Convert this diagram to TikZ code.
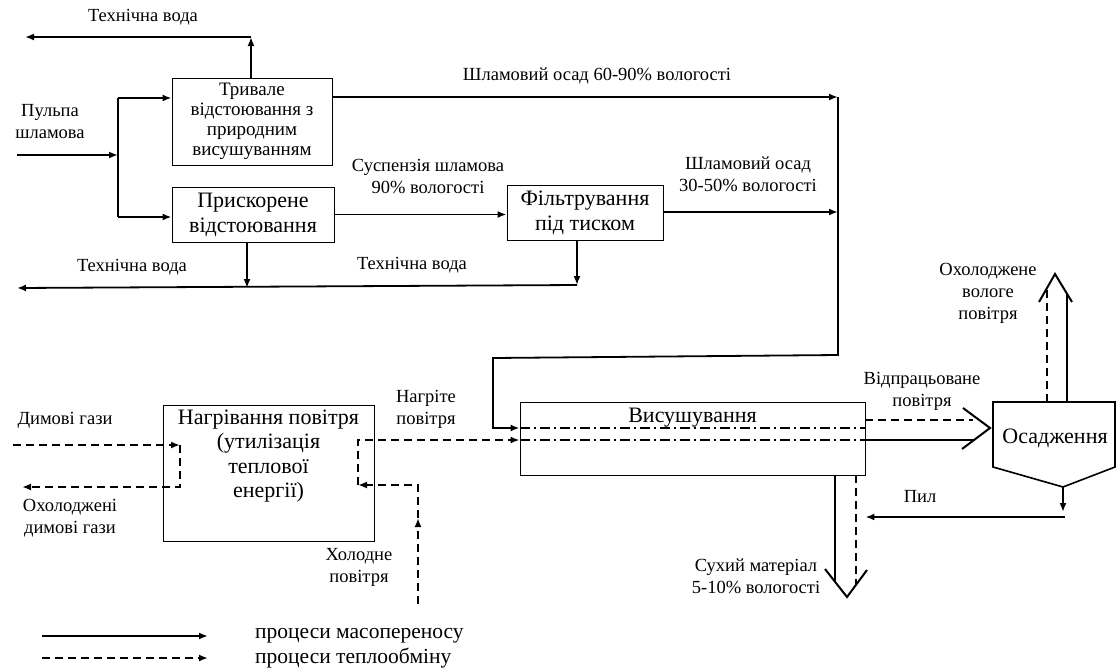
\documentclass[tikz,border=0pt]{standalone}
\usepackage{fontspec}
\setmainfont{Liberation Serif}
\usepackage{tikz}
\usetikzlibrary{
    positioning,
    calc,
    arrows.meta
}
\tikzset{
  box/.style = {
      draw,
      line width=0.9pt,
      rectangle,
      align=center,
      inner sep=0pt,
      font=\fontsize{22}{25}\selectfont
  },
  boxtext/.style = {
      align=center,
      inner sep=0pt,
      font=\fontsize{22}{24.5}\selectfont
  },
  smallbox/.style = {
      box,
      font=\fontsize{19}{20}\selectfont
  },
  txt/.style = {
      align=center,
      inner sep=1pt,
      font=\fontsize{18.5}{22}\selectfont
  },
  flow/.style = {
      line width=1.8pt
  },
  mass/.style = {
      flow,
      -{Latex[length=9pt,width=7pt]}
  },
  heatline/.style = {
      line width=1.8pt,
      dash pattern=on 8pt off 5pt
  },
  heat/.style = {
      heatline,
      -{Latex[length=9pt,width=7pt]}
  },
  dashdot/.style = {
      line width=1.6pt,
      dash pattern=on 10pt off 4pt on 2pt off 4pt
  },
  chevron/.style = {
      line width=2pt,
      line join=miter
  }
}

\begin{document}
\begin{tikzpicture}[x=1pt, y=-1pt]
        \useasboundingbox (0,0) rectangle (1117,670);
        % Boxes
        \node[smallbox, minimum width=160pt, minimum height=87pt] (settle) at (252,121.5)
            {Тривале\\відстоювання з\\природним\\висушуванням};
        \node[box, minimum width=162pt, minimum height=55pt] (accel) at (253,214.5)
            {Прискорене\\відстоювання};
        \node[box, minimum width=156pt, minimum height=55pt] (filter) at (585,212.5)
            {Фільтрування\\під тиском};
        \node[box, minimum width=345pt, minimum height=73pt] (dryer) at (692.5,438.5) {};
        \node[boxtext, below=6pt of dryer.north] (drylbl) {Висушування};
        \node[box, minimum width=211pt, minimum height=136pt] (heater) at (268.5,473) {};
        \node[boxtext, below=5pt of heater.north] (heatlbl)
            {Нагрівання повітря\\(утилізація\\теплової\\енергії)};
        % Settler outline
        \coordinate (s1) at (993,402);
        \coordinate (s2) at (1115,402);
        \coordinate (s3) at (1115,467);
        \coordinate (s4) at (1063,487);
        \coordinate (s5) at (993,467);
        \draw[line width=1.6pt] (s1) -- (s2) -- (s3) -- (s4) -- (s5) -- cycle;
        \node[boxtext] (settler) at (1055,438) {Осадження};
        % Slurry input
        \coordinate (in) at (17,155);
        \coordinate (split) at (118,155);
        \coordinate (j1) at (118,98);
        \coordinate (j2) at (118,217);
        \draw[mass] (in) -- (split);
        \draw[flow] (j1) -- (j2);
        \draw[mass] (j1) -- (j1 -| settle.west);
        \draw[mass] (j2) -- (j2 -| accel.west);
        \node[txt] (inlbl) at (50,122) {Пульпа\\шламова};
        % Process water
        \coordinate (w1) at (251,37);
        \coordinate (w1end) at (25,37);
        \draw[mass] (settle.north -| w1) -- (w1);
        \draw[mass] (w1) -- (w1end);
        \node[txt] (w1lbl) at (143,17) {Технічна вода};
        \coordinate (w2) at (247,288);
        \coordinate (w3) at (577,285);
        \coordinate (w2end) at (17,288);
        \draw[mass] (accel.south -| w2) -- (w2);
        \draw[mass] (filter.south -| w3) -- (w3);
        \draw[mass] (w3) -- (w2end);
        \node[txt] (w2lbl) at (132,267) {Технічна вода};
        \node[txt] (w3lbl) at (412,265) {Технічна вода};
        % Sludge lines
        \draw[mass] (accel.east) -- (accel.east -| filter.west);
        \node[txt] (suslbl) at (428,176) {Суспензія шламова\\90\% вологості};
        \coordinate (col1) at (838,97);
        \coordinate (col2) at (838,212);
        \draw[mass] (settle.east |- col1) -- (col1);
        \node[txt] (sl1lbl) at (597,76) {Шламовий осад 60-90\% вологості};
        \draw[mass] (filter.east |- col2) -- (col2);
        \node[txt] (sl2lbl) at (748,174) {Шламовий осад\\30-50\% вологості};
        \coordinate (c3) at (838,355);
        \coordinate (c4) at (493,358);
        \coordinate (c5) at (493,428);
        \draw[mass] (col1) -- (c3) -- (c4) -- (c5) -- (c5 -| dryer.west);
        % Flue gas
        \coordinate (f0) at (13,445);
        \coordinate (f1) at (180,445);
        \coordinate (f3) at (22,487);
        \draw[heat] (f0) -- (f1);
        \draw[heat] (f1) |- (f3);
        \node[txt] (f0lbl) at (65,420) {Димові гази};
        \node[txt] (f3lbl) at (70,518) {Охолоджені\\димові гази};
        % Air
        \coordinate (h0) at (418,604);
        \coordinate (hm) at (418,518);
        \coordinate (h2) at (358,485);
        \coordinate (h3) at (358,440);
        \draw[heat] (h0) -- (hm);
        \draw[heat] (hm) |- (h2);
        \draw[heat] (h2) -- (h3) -- (h3 -| dryer.west);
        \node[txt] (hotlbl) at (426,409) {Нагріте\\повітря};
        \node[txt] (coldlbl) at (359,567) {Холодне\\повітря};
        % Drum lines
        \draw[dashdot] (dryer.west |- c5) -- (dryer.east |- c5);
        \draw[dashdot] (dryer.west |- h3) -- (dryer.east |- h3);
        % Exhaust air
        \coordinate (e1) at (973,420);
        \coordinate (e2) at (975,440);
        \draw[heatline] (dryer.east |- e1) -- (e1);
        \draw[flow] (dryer.east |- e2) -- (e2);
        \coordinate (t1) at (963,408);
        \coordinate (t2) at (990,428);
        \coordinate (t3) at (962,449);
        \draw[chevron] (t1) -- (t2) -- (t3);
        \node[txt] (exlbl) at (922,391) {Відпрацьоване\\повітря};
        % Dust
        \coordinate (d1) at (1063,512);
        \coordinate (d2) at (1065,517);
        \draw[mass] (s4) -- (d1);
        \draw[mass] (d2) -- (d2 -| dryer.east);
        \node[txt] (dustlbl) at (920,497) {Пил};
        % Cooled humid air
        \coordinate (o1) at (1067,402);
        \coordinate (o2) at (1067,294);
        \coordinate (o3) at (1047,402);
        \coordinate (o4) at (1047,289);
        \draw[flow] (o1) -- (o2);
        \draw[heatline] (o3) -- (o4);
        \coordinate (u1) at (1039,302);
        \coordinate (u2) at (1055,274);
        \coordinate (u3) at (1072,302);
        \draw[chevron] (u1) -- (u2) -- (u3);
        \node[txt] (humlbl) at (988,293) {Охолоджене\\вологе\\повітря};
        % Dry product
        \coordinate (p1) at (835,475);
        \coordinate (p2) at (835,582);
        \coordinate (p3) at (856,475);
        \coordinate (p4) at (856,585);
        \draw[flow] (p1) -- (p2);
        \draw[heatline] (p3) -- (p4);
        \coordinate (v1) at (825,569);
        \coordinate (v2) at (847,597);
        \coordinate (v3) at (867,570);
        \draw[chevron] (v1) -- (v2) -- (v3);
        \node[txt] (drylbl2) at (756,576) {Сухий матеріал\\5-10\% вологості};
        % Legend
        \coordinate (lg1) at (42,636);
        \coordinate (lg2) at (208,636);
        \coordinate (lg3) at (42,658);
        \coordinate (lg4) at (208,658);
        \draw[mass] (lg1) -- (lg2);
        \draw[heat] (lg3) -- (lg4);
        \node[boxtext, anchor=west, font=\fontsize{21.5}{24}\selectfont] (lgm) at (255,636) {процеси масопереносу};
        \node[boxtext, anchor=west, font=\fontsize{21.5}{24}\selectfont] (lgh) at (255,658) {процеси теплообміну};
    \end{tikzpicture}
\end{document}
